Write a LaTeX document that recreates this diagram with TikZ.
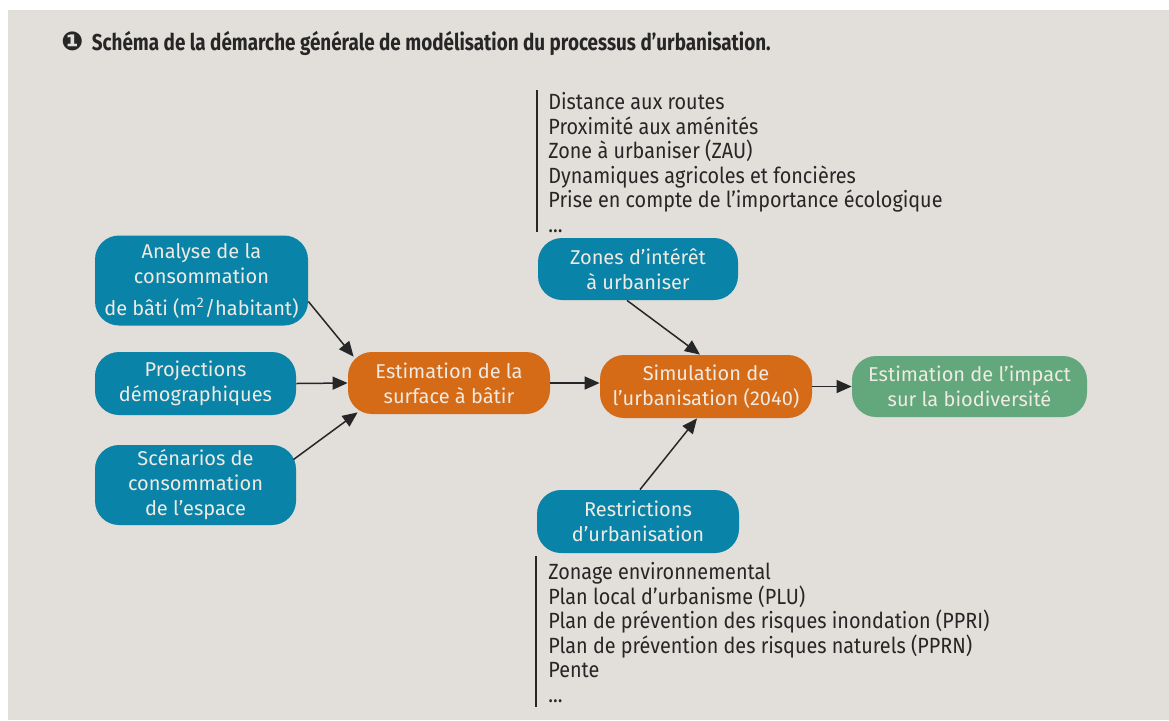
\documentclass[tikz,border=0pt]{standalone}
\usepackage{fontspec}
\setmainfont{Fira Sans}
\newfontfamily\listefont[FakeStretch=0.9]{Fira Sans}
\newfontfamily\titrefont[FakeStretch=0.82]{Fira Sans}
\newfontfamily\dejavu{DejaVu Sans}
\usetikzlibrary{arrows.meta}

\definecolor{fond}{HTML}{E2DED9}
\definecolor{bleu}{HTML}{0A83A8}
\definecolor{orangemod}{HTML}{D56A17}
\definecolor{vert}{HTML}{62A87C}
\definecolor{texteclair}{HTML}{EFEAE2}
\definecolor{trait}{HTML}{262626}

\tikzset{
  boite/.style={rounded corners=12pt, text=texteclair, align=center,
    font=\fontsize{10}{12.5}\selectfont, inner sep=0pt},
  entree/.style={boite, fill=bleu},
  calcul/.style={boite, fill=orangemod},
  sortie/.style={boite, fill=vert},
  fleche/.style={-{Triangle[length=7.5pt,width=6.5pt]}, line width=0.75pt, draw=trait},
  liste/.style={align=left, anchor=north west, inner sep=0pt,
    font=\listefont\fontsize{11}{12.25}\selectfont, text=trait},
}

\begin{document}
\begin{tikzpicture}[x=0.5pt,y=-0.5pt]
        \useasboundingbox (0,0) rectangle (1169,720);
        \fill[white] (0,0) rectangle (1169,720);
        \fill[fond] (8,10) rectangle (1169,720);
        % titre
        \node[anchor=west, inner sep=0pt, text=trait, font=\titrefont\fontsize{11.5}{13}\selectfont\bfseries] (titre) at (61,43)
          {{\dejavu\fontsize{13}{13}\selectfont ❶}\hspace{2pt} Schéma de la démarche générale de modélisation du processus d’urbanisation.};
        % entrées
        \node[entree, minimum width=106.5pt, minimum height=45pt] (ana) at (201.5,280.5)
          {Analyse de la\\consommation\\[3.5pt]de bâti (m\textsuperscript{2}/habitant)};
        \node[entree, minimum width=100.5pt, minimum height=31.5pt] (proj) at (195.5,383.5)
          {Projections\\démographiques};
        \node[entree, minimum width=100.5pt, minimum height=40pt] (scen) at (195.5,485)
          {Scénarios de\\consommation\\de l’espace};
        \node[entree, minimum width=100pt, minimum height=31pt] (zon) at (638,269)
          {Zones d’intérêt\\à urbaniser};
        \node[entree, minimum width=101pt, minimum height=31.5pt] (res) at (638,521.5)
          {Restrictions\\d’urbanisation};
        % calculs
        \node[calcul, minimum width=101pt, minimum height=31pt] (surf) at (449,383)
          {Estimation de la\\surface à bâtir};
        \node[calcul, minimum width=106pt, minimum height=31.5pt] (sim) at (706,386.5)
          {Simulation de\\l’urbanisation (2040)};
        \node[sortie, minimum width=117.5pt, minimum height=30.5pt] (imp) at (969.5,386.5)
          {Estimation de l’impact\\sur la biodiversité};
        % listes
        \node[liste] (crit) at (548,92)
          {Distance aux routes\\Proximité aux aménités\\Zone à urbaniser (ZAU)\\Dynamiques agricoles et foncières\\Prise en compte de l’importance écologique\\...};
        \draw[trait, line width=0.6pt] (537,90) -- (537,232);
        \node[liste] (lois) at (548,562)
          {Zonage environnemental\\Plan local d’urbanisme (PLU)\\Plan de prévention des risques inondation (PPRI)\\Plan de prévention des risques naturels (PPRN)\\Pente\\...};
        \draw[trait, line width=0.6pt] (536,556) -- (536,707);
        % flèches
        \draw[fleche] ([yshift=-10.5pt]ana.east) -- ([xshift=3pt,yshift=-2.5pt]surf.north west);
        \draw[fleche] (proj.east) -- (surf.west);
        \draw[fleche] ([xshift=-1.5pt,yshift=-7.5pt]scen.north east) -- ([xshift=5pt,yshift=1pt]surf.south west);
        \draw[fleche] (surf.east) -- (surf.east -| sim.west);
        \draw[fleche] ([xshift=-5.5pt]zon.south) -- ([xshift=-3pt]sim.north);
        \draw[fleche] ([xshift=1pt]res.north) -- ([xshift=-4.5pt]sim.south);
        \draw[fleche] (sim.east) -- (imp.west);
\end{tikzpicture}
\end{document}
